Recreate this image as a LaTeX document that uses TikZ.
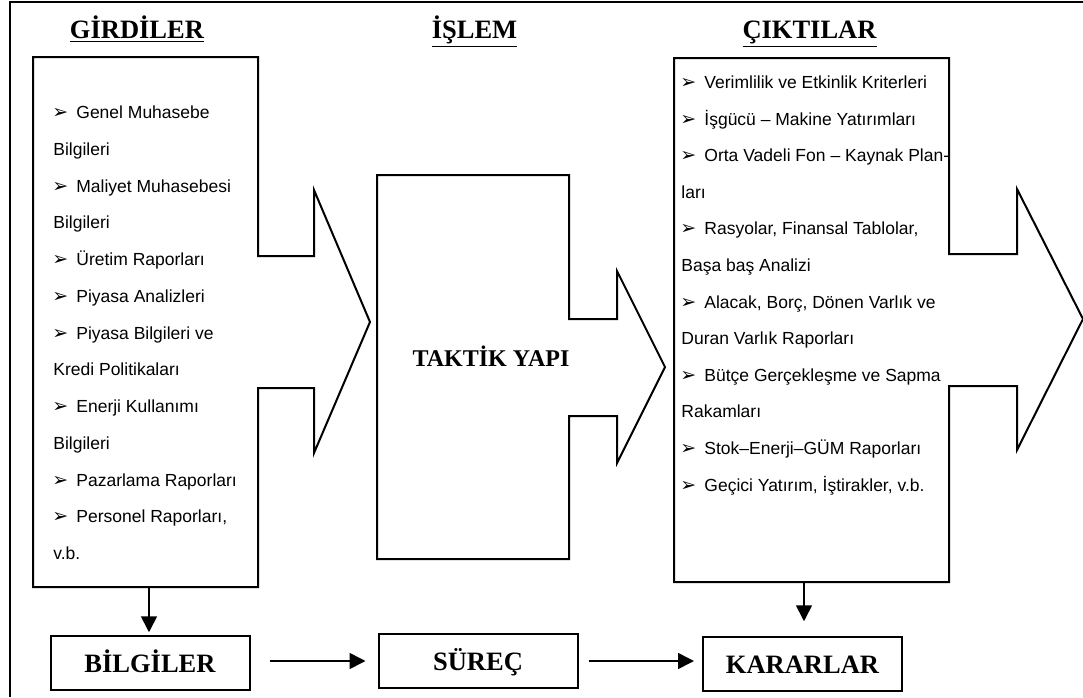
\documentclass[tikz,border=0pt]{standalone}
\usepackage{fontspec}
\setmainfont{Liberation Serif}
\newfontfamily\arialfont{Liberation Sans}
\newfontfamily\dejavufont{DejaVu Sans}
\usetikzlibrary{arrows.meta}
\def\madde{\makebox[11.5pt][l]{\hspace{-0.5pt}\dejavufont\fontsize{9.5}{10}\selectfont ➢}}

\begin{document}
\begin{tikzpicture}[x=0.5pt, y=-0.5pt,
	kutu/.style={line width=1pt, line join=miter},
	liste/.style={anchor=base west, inner sep=0pt, font=\arialfont\fontsize{8.75}{10}\selectfont},
	baslik/.style={anchor=base, inner sep=0pt, font=\bfseries\fontsize{13.25}{15}\selectfont},
	sonuc/.style={draw, line width=1pt, minimum width=99.5pt, minimum height=26.75pt, inner sep=0pt, text height=9pt, text depth=0pt, font=\bfseries\fontsize{13.25}{15}\selectfont},
	okucu/.style={-{Triangle[length=8pt,width=8pt]}, line width=0.8pt}]
			%%%%% START %%%%%
			\useasboundingbox (0,0) rectangle (1083,697);
			
			\draw[line width=1.1pt] (10,697) -- (10,2) -- (1083,2);
			
			\node[baslik] (girdiler) at (137,38.5) {\underline{GİRDİLER}};
			\node[baslik] (islem) at (474.5,38.5) {\underline{İŞLEM}};
			\node[baslik] (ciktilar) at (809.5,38.5) {\underline{ÇIKTILAR}};
			
			\draw[kutu] (33,57) -- (258,57) -- (258,256) -- (314,256) -- (314,190) -- (370,322) -- (314,453) -- (314,388) -- (258,388) -- (258,587) -- (33,587) -- cycle;
			\coordinate (girdiAlt) at (149,587);
			
			\draw[kutu] (377,175) -- (569,175) -- (569,319) -- (617,319) -- (617,271) -- (665,367) -- (617,463) -- (617,416) -- (569,416) -- (569,559) -- (377,559) -- cycle;
			\node[baslik, font=\bfseries\fontsize{12}{14}\selectfont] (taktik) at (491,366) {TAKTİK YAPI};
			
			\draw[kutu] (674,58) -- (949,58) -- (949,254) -- (1017,254) -- (1017,189) -- (1083,319) -- (1017,450) -- (1017,386) -- (949,386) -- (949,582) -- (674,582) -- cycle;
			\coordinate (ciktiAlt) at (804,582);
			
			% girdiler
			\node[liste] (g1) at (53,118.5) {\madde Genel Muhasebe};
			\node[liste] (g2) at (53,155.25) {Bilgileri};
			\node[liste] (g3) at (53,192) {\madde Maliyet Muhasebesi};
			\node[liste] (g4) at (53,228.75) {Bilgileri};
			\node[liste] (g5) at (53,265.5) {\madde Üretim Raporları};
			\node[liste] (g6) at (53,302.25) {\madde Piyasa Analizleri};
			\node[liste] (g7) at (53,339) {\madde Piyasa Bilgileri ve};
			\node[liste] (g8) at (53,375.75) {Kredi Politikaları};
			\node[liste] (g9) at (53,412.5) {\madde Enerji Kullanımı};
			\node[liste] (g10) at (53,449.25) {Bilgileri};
			\node[liste] (g11) at (53,486) {\madde Pazarlama Raporları};
			\node[liste] (g12) at (53,522.75) {\madde Personel Raporları,};
			\node[liste] (g13) at (53,559.5) {v.b.};
			
			% ciktilar
			\node[liste] (c1) at (681,88.5) {\madde Verimlilik ve Etkinlik Kriterleri};
			\node[liste] (c2) at (681,125.1) {\madde İşgücü – Makine Yatırımları};
			\node[liste] (c3) at (681,161.7) {\madde Orta Vadeli Fon – Kaynak Plan-};
			\node[liste] (c4) at (681,198.3) {ları};
			\node[liste] (c5) at (681,234.9) {\madde Rasyolar, Finansal Tablolar,};
			\node[liste] (c6) at (681,271.5) {Başa baş Analizi};
			\node[liste] (c7) at (681,308.1) {\madde Alacak, Borç, Dönen Varlık ve};
			\node[liste] (c8) at (681,344.7) {Duran Varlık Raporları};
			\node[liste] (c9) at (681,381.3) {\madde Bütçe Gerçekleşme ve Sapma};
			\node[liste] (c10) at (681,417.9) {Rakamları};
			\node[liste] (c11) at (681,454.5) {\madde Stok–Enerji–GÜM Raporları};
			\node[liste] (c12) at (681,491.1) {\madde Geçici Yatırım, İştirakler, v.b.};
			
			\node[sonuc] (bilgiler) at (150,663) {BİLGİLER};
			\node[sonuc] (surec) at (478,661) {SÜREÇ};
			\node[sonuc] (kararlar) at (802.5,664) {KARARLAR};
			
			\draw[okucu, shorten >=1.5pt] (girdiAlt) -- (girdiAlt |- bilgiler.north);
			\draw[okucu, shorten >=7.5pt] (ciktiAlt) -- (ciktiAlt |- kararlar.north);
			\draw[okucu, shorten <=9.5pt, shorten >=6pt] (bilgiler.east |- surec) -- (surec.west);
			\draw[okucu, shorten <=5pt, shorten >=4pt] (surec.east) -- (kararlar.west |- surec);
			
			%%%%% END %%%%%
		\end{tikzpicture}
\end{document}
